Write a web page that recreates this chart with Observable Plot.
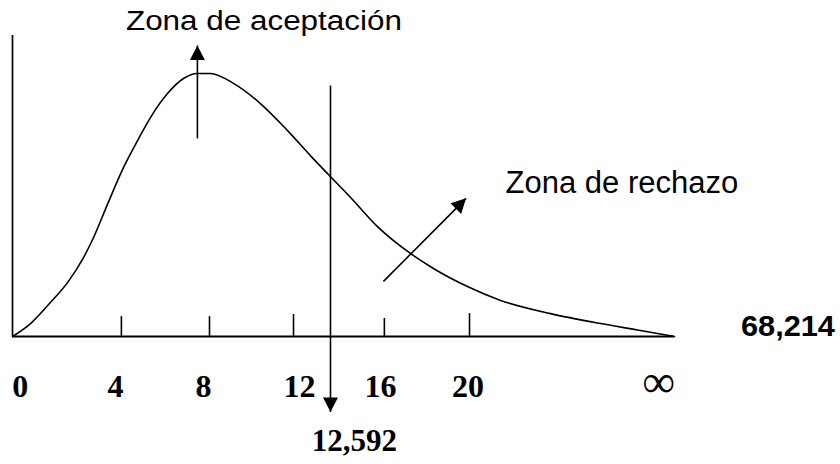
<!DOCTYPE html>
<html>
<head>
<meta charset="utf-8">
<script src="https://cdn.jsdelivr.net/npm/d3@7"></script>
<script src="https://cdn.jsdelivr.net/npm/@observablehq/plot@0.6"></script>
<style>
  html, body { margin: 0; padding: 0; background: #fff; }
  #chart svg { display: block; overflow: visible; }
</style>
</head>
<body>
<div id="chart"></div>
<script>
// Curve of the distribution (drawing units: x along the axis, y height)
const curveX = [0, 0.79, 1.66, 2.41, 3.11, 3.55, 4.16, 4.86, 5.48, 6.05, 6.79, 7.49, 8.10, 8.67, 9.68, 10.86, 12.05, 13.05, 13.84, 14.81, 15.99, 17.43, 18.44, 19.93, 21.38, 23.57, 25.76, 27.51, 29];
const curveY = [0, 4.3, 11.3, 17.9, 26.2, 32.9, 43.9, 56.1, 65.1, 72.8, 80.7, 85.7, 87.4, 87.4, 84.1, 77.4, 68.4, 60.1, 53.8, 46.2, 36.5, 27.6, 22.6, 16.6, 12.0, 7.6, 4.3, 2.0, 0];

// Axis extent
const axisXMax = 29;
const axisYMax = 100;

// Tick marks on the horizontal axis
const tickX = [4.77, 8.63, 12.31, 16.29, 20.02];
const tickTop = [6.6, 6.6, 7.3, 6.0, 7.6];

// Tick labels
const tickLabels = ["0", "4", "8", "12", "16", "20"];
const tickLabelX = [0.34, 4.51, 8.37, 12.57, 16.12, 19.95];
const infLabel = "∞";
const infX = 28.3;
const labelBaseline = -20.2;

// Critical value line and labels
const critX = 13.93;
const critTop = 83.4;
const critTip = -25.1;
const critLabel = "12,592";
const critLabelX = 14.98;
const critLabelY = -38.2;
const statLabel = "68,214";
const statLabelX = 33.97;
const statLabelY = 0.33;

// Arrows: [x1, y1, x2(tip), y2(tip), angle]
const arrowNames = ["aceptacion", "critico", "rechazo"];
const arrowX1 = [8.10, critX, 16.25];
const arrowY1 = [65.8, critTop, 18.3];
const arrowX2 = [8.10, critX, 19.87];
const arrowY2 = [96.7, critTip, 45.9];
const arrowAngle = [0, 180, 45];

// Zone labels
const zoneLabels = ["Zona de aceptación", "Zona de rechazo"];
const zoneX = [4.97, 21.6];
const zoneY = [101.7, 47.8];
const zoneSize = [27, 31];

const curve = curveX.map((x, i) => ({x, y: curveY[i]}));
const ticks = tickX.map((x, i) => ({x, top: tickTop[i]}));
const labels = tickLabels.map((t, i) => ({t, x: tickLabelX[i]}));
const arrows = arrowNames.map((n, i) => ({n, x1: arrowX1[i], y1: arrowY1[i], x2: arrowX2[i], y2: arrowY2[i], a: arrowAngle[i]}));
const zones = zoneLabels.map((t, i) => ({t, x: zoneX[i], y: zoneY[i], s: zoneSize[i]}));

const head = {
  draw(ctx) {
    ctx.moveTo(0, 0);
    ctx.lineTo(-7.5, 14.5);
    ctx.lineTo(7.5, 14.5);
    ctx.closePath();
  }
};

const serif = "'Liberation Serif', 'Times New Roman', serif";
const sans = "'Liberation Sans', Arial, sans-serif";

const chart = Plot.plot({
  width: 840,
  height: 464,
  marginTop: 35,
  marginBottom: 128,
  marginLeft: 12,
  marginRight: 166,
  x: {domain: [0, axisXMax], axis: null},
  y: {domain: [0, axisYMax], axis: null},
  style: {background: "#fff", color: "#000"},
  marks: [
    Plot.ruleX([0], {y1: 0, y2: axisYMax, stroke: "#000", strokeWidth: 1.7}),
    Plot.ruleY([0], {x1: 0, x2: axisXMax, stroke: "#000", strokeWidth: 2}),
    Plot.ruleX(ticks, {x: "x", y1: 0, y2: "top", stroke: "#000", strokeWidth: 1.6}),
    Plot.line(curve, {x: "x", y: "y", curve: "monotone-x", stroke: "#000", strokeWidth: 1.6}),
    Plot.link(arrows, {x1: "x1", y1: "y1", x2: "x2", y2: "y2", stroke: "#000", strokeWidth: 1.6}),
    Plot.dot(arrows, {x: "x2", y: "y2", rotate: "a", symbol: head, fill: "#000", stroke: null}),
    Plot.text(labels, {x: "x", y: labelBaseline, text: "t", lineAnchor: "bottom", textAnchor: "middle", fontFamily: serif, fontWeight: "bold", fontSize: 32, fill: "#000"}),
    Plot.text([infLabel], {x: infX, y: labelBaseline, text: d => d, lineAnchor: "bottom", textAnchor: "middle", fontFamily: serif, fontSize: 46, fill: "#000"}),
    Plot.text([critLabel], {x: critLabelX, y: critLabelY, text: d => d, lineAnchor: "bottom", textAnchor: "middle", fontFamily: serif, fontWeight: "bold", fontSize: 31, fill: "#000"}),
    Plot.text([statLabel], {x: statLabelX, y: statLabelY, text: d => d, lineAnchor: "bottom", textAnchor: "middle", fontFamily: sans, fontWeight: "bold", fontSize: 29, fill: "#000"}),
    Plot.text(zones, {x: "x", y: "y", text: "t", lineAnchor: "bottom", textAnchor: "start", fontFamily: sans, fontSize: "s", fill: "#000"})
  ]
});

// Match the wider lettering of the original drawing
const stretch = {"Zona de aceptación": 276, "68,214": 94};
chart.querySelectorAll("text").forEach(t => {
  const w = stretch[t.textContent];
  if (w) {
    t.setAttribute("textLength", w);
    t.setAttribute("lengthAdjust", "spacingAndGlyphs");
  }
});

document.getElementById("chart").append(chart);
</script>
</body>
</html>
